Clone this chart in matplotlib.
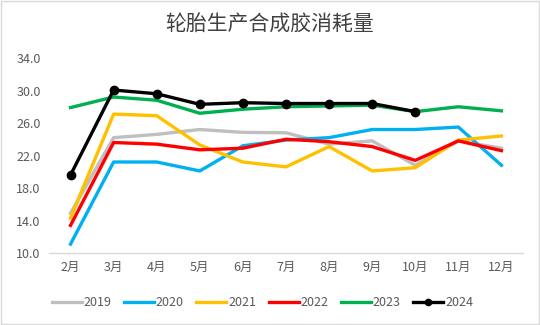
import matplotlib
matplotlib.use('Agg')
import matplotlib.pyplot as plt

plt.rcParams['font.family'] = ['Noto Sans CJK SC', 'DejaVu Sans']

months = ['2月', '3月', '4月', '5月', '6月', '7月', '8月', '9月', '10月', '11月', '12月']
y2019 = [14.9, 24.2, 24.6, 25.2, 24.85, 24.8, 23.4, 23.8, 20.8, 23.8, 22.9]
y2020 = [11.1, 21.2, 21.2, 20.1, 23.2, 23.9, 24.2, 25.2, 25.2, 25.5, 20.8]
y2021 = [14.3, 27.1, 26.9, 23.3, 21.2, 20.6, 23.1, 20.1, 20.5, 23.9, 24.4]
y2022 = [13.4, 23.6, 23.4, 22.7, 22.9, 24.0, 23.7, 23.1, 21.4, 23.8, 22.6]
y2023 = [27.9, 29.2, 28.8, 27.2, 27.7, 28.0, 28.1, 28.2, 27.4, 28.0, 27.5]
y2024 = [19.6, 30.06, 29.6, 28.3, 28.5, 28.4, 28.4, 28.4, 27.4]
yticks = [10, 14, 18, 22, 26, 30, 34]

fig = plt.figure(figsize=(5.4, 3.25), dpi=100)
ax = fig.add_axes([0.0907, 0.2215, 0.8778, 0.6])

x = list(range(len(months)))
lw = 2.4
ax.plot(x, y2019, color='#BFBFBF', lw=lw, label='2019')
ax.plot(x, y2020, color='#00B0F0', lw=lw, label='2020')
ax.plot(x, y2021, color='#FFC000', lw=lw, label='2021')
ax.plot(x, y2022, color='#FF0000', lw=lw, label='2022')
ax.plot(x, y2023, color='#00B050', lw=lw, label='2023')
ax.plot(x[:len(y2024)], y2024, color='#000000', lw=lw, marker='o', ms=6, label='2024')

ax.set_xlim(-0.5, len(months) - 0.5)
ax.set_ylim(10, 34)
ax.set_xticks(x)
ax.set_xticklabels(months)
ax.set_yticks(yticks)
ax.set_yticklabels([f'{v:.1f}' for v in yticks])
ax.tick_params(axis='both', length=0, labelsize=9, colors='#595959', pad=6)
for s in ['top', 'right', 'left']:
    ax.spines[s].set_visible(False)
ax.spines['bottom'].set_color('#D9D9D9')
ax.spines['bottom'].set_linewidth(1)

fig.text(0.5, 0.925, '轮胎生产合成胶消耗量', ha='center', va='center',
         fontsize=15, color='#404040')

fig.legend(loc='center', bbox_to_anchor=(0.486, 0.068), ncol=6, frameon=False,
           fontsize=9, labelcolor='#595959', handlelength=2.4, handletextpad=0.15,
           columnspacing=1.0, markerscale=0.75)

fig.patches.append(plt.Rectangle((0.001, 0.002), 0.997, 0.995, transform=fig.transFigure,
                                 fill=False, edgecolor='#D9D9D9', lw=1))

fig.savefig('out.png', dpi=100)
